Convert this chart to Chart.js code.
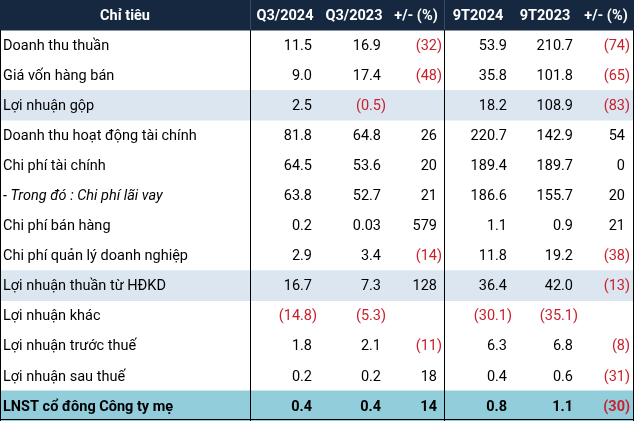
<!DOCTYPE html>
<html>
<head>
<meta charset="utf-8">
<script src="https://cdn.jsdelivr.net/npm/chart.js@4.4.1/dist/chart.umd.min.js"></script>
<style>
  html, body { margin: 0; padding: 0; background: #ffffff; }
  #wrap { width: 634px; height: 422px; }
</style>
</head>
<body>
<div id="wrap"><canvas id="tbl" width="634" height="422"></canvas></div>
<script>
// table content
const headers = ['Chỉ tiêu', 'Q3/2024', 'Q3/2023', '+/- (%)', '9T2024', '9T2023', '+/- (%)'];
const rowLabels = [
    'Doanh thu thuần',
    'Giá vốn hàng bán',
    'Lợi nhuận gộp',
    'Doanh thu hoạt động tài chính',
    'Chi phí tài chính',
    '- Trong đó : Chi phí lãi vay',
    'Chi phí bán hàng',
    'Chi phí quản lý doanh nghiệp',
    'Lợi nhuận thuần từ HĐKD',
    'Lợi nhuận khác',
    'Lợi nhuận trước thuế',
    'Lợi nhuận sau thuế',
    'LNST cổ đông Công ty mẹ'
];
const q3_2024 = [11.5, 9.0, 2.5, 81.8, 64.5, 63.8, 0.2, 2.9, 16.7, -14.8, 1.8, 0.2, 0.4];
const q3_2023 = [16.9, 17.4, -0.5, 64.8, 53.6, 52.7, 0.03, 3.4, 7.3, -5.3, 2.1, 0.2, 0.4];
const q3Change = [-32, -48, null, 26, 20, 21, 579, -14, 128, null, -11, 18, 14];
const t9_2024 = [53.9, 35.8, 18.2, 220.7, 189.4, 186.6, 1.1, 11.8, 36.4, -30.1, 6.3, 0.4, 0.8];
const t9_2023 = [210.7, 101.8, 108.9, 142.9, 189.7, 155.7, 0.9, 19.2, 42.0, -35.1, 6.8, 0.6, 1.1];
const t9Change = [-74, -65, -83, 54, 0, 20, 21, -38, -13, null, -8, -31, -30];

// which rows are shaded / styled
const bandRows = [2, 8];
const totalRow = 12;
const italicRow = 5;

// layout (x in pixels of a 634 wide table)
const TABLE_W = 634;
const headerCenters = [125, 285, 354, 416, 478, 545, 606];
const numRight = [312, 381, 437, 507, 573, 625];
const dividers = [0.5, 250.5, 444.5, 633.5];

const FONT = 'Roboto, "Open Sans", sans-serif';
const SIZE = '14.5px ';
const HEADER_BG = '#162840';
const BAND_BG = '#dce6f1';
const TOTAL_BG = '#92cddc';
const RED = '#c8202c';

const columns = [q3_2024, q3_2023, q3Change, t9_2024, t9_2023, t9Change];
const decimals = [1, 1, 0, 1, 1, 0];

function fmt(v, d) {
    if (v === null) return '';
    let s = Math.abs(v).toFixed(d);
    if (d > 0 && Number(s) !== Math.abs(v)) s = Math.abs(v).toFixed(2);
    return v < 0 ? '(' + s + ')' : s;
}

// one category per table line, header first
const categories = ['header', ...rowLabels];
const cellSpans = categories.map((c, i) => {
    if (i === 0 || bandRows.includes(i - 1) || i - 1 === totalRow) return [0, TABLE_W];
    return null;
});
const cellColors = categories.map((c, i) => {
    if (i === 0) return HEADER_BG;
    if (i - 1 === totalRow) return TOTAL_BG;
    return BAND_BG;
});

const tablePlugin = {
    id: 'tableText',
    afterDatasetsDraw(chart) {
        const ctx = chart.ctx;
        const xs = chart.scales.x;
        const ys = chart.scales.y;
        const rowH = ys.getPixelForValue(1) - ys.getPixelForValue(0);
        const top = ys.getPixelForValue(0) - rowH / 2;
        const headBottom = ys.getPixelForValue(0) + rowH / 2;
        const bottom = chart.chartArea.bottom;

        ctx.save();
        // vertical rules
        dividers.forEach((d, k) => {
            const x = Math.round(xs.getPixelForValue(d - 0.5)) + 0.5;
            ctx.strokeStyle = '#000000';
            ctx.lineWidth = 1;
            ctx.beginPath();
            ctx.moveTo(x, headBottom);
            ctx.lineTo(x, bottom);
            ctx.stroke();
            if (k === 1 || k === 2) {
                ctx.strokeStyle = '#3a4a60';
                ctx.beginPath();
                ctx.moveTo(x, top);
                ctx.lineTo(x, headBottom);
                ctx.stroke();
            }
        });
        // bottom rule
        ctx.strokeStyle = '#000000';
        ctx.beginPath();
        ctx.moveTo(0, bottom - 1.5);
        ctx.lineTo(xs.getPixelForValue(TABLE_W), bottom - 1.5);
        ctx.stroke();

        ctx.textBaseline = 'middle';
        // header
        ctx.fillStyle = '#ffffff';
        ctx.font = 'bold ' + SIZE + FONT;
        ctx.textAlign = 'center';
        headers.forEach((h, k) => {
            ctx.fillText(h, xs.getPixelForValue(headerCenters[k]), ys.getPixelForValue(0) + 1);
        });

        // body
        rowLabels.forEach((label, r) => {
            const y = ys.getPixelForValue(r + 1) + 1;
            const bold = r === totalRow ? 'bold ' : '';
            const italic = r === italicRow ? 'italic ' : '';
            ctx.font = italic + bold + SIZE + FONT;
            ctx.textAlign = 'left';
            ctx.fillStyle = '#000000';
            ctx.fillText(label, xs.getPixelForValue(3), y);

            ctx.font = bold + SIZE + FONT;
            const parenW = ctx.measureText(')').width;
            columns.forEach((col, k) => {
                const v = col[r];
                if (v === null) return;
                const txt = fmt(v, decimals[k]);
                const right = xs.getPixelForValue(numRight[k]);
                ctx.textAlign = 'right';
                if (v < 0) {
                    ctx.fillStyle = RED;
                    ctx.fillText(txt, right + parenW, y);
                } else {
                    ctx.fillStyle = '#000000';
                    ctx.fillText(txt, right, y);
                }
            });
        });
        ctx.restore();
    }
};

new Chart(document.getElementById('tbl'), {
    type: 'bar',
    data: {
        labels: categories,
        datasets: [{
            data: cellSpans,
            backgroundColor: cellColors,
            borderWidth: 0,
            barPercentage: 1,
            categoryPercentage: 1
        }]
    },
    options: {
        indexAxis: 'y',
        responsive: false,
        animation: false,
        layout: { padding: { top: 0, bottom: 1, left: 0, right: 0 } },
        plugins: { legend: { display: false }, tooltip: { enabled: false } },
        scales: {
            x: { type: 'linear', min: 0, max: TABLE_W, display: false },
            y: { type: 'category', offset: true, display: false, grid: { display: false } }
        }
    },
    plugins: [tablePlugin]
});
</script>
</body>
</html>
